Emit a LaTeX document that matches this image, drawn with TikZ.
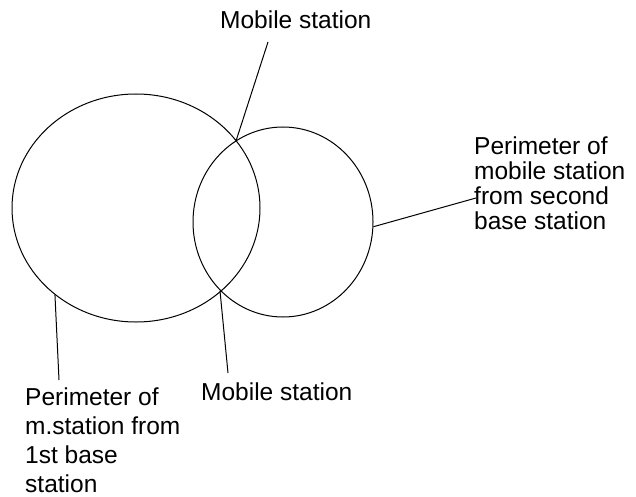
\documentclass[tikz,border=0pt]{standalone}
\usepackage{fontspec}
\setmainfont{Liberation Sans}
\usetikzlibrary{shapes.geometric}

\begin{document}
\begin{tikzpicture}[x=1pt,y=-1pt,
    ring/.style={draw, ellipse, line width=1pt},
    txt/.style={align=left, inner sep=0pt, anchor=base west,
                font=\fontsize{24.5}{25}\selectfont},
    leader/.style={draw, line width=1pt}
  ]
  \useasboundingbox (0,0) rectangle (636,497);

  % perimeters round the two base stations
  \node[ring, minimum width=248pt, minimum height=228pt] (first) at (136,208) {};
  \node[ring, minimum width=180pt, minimum height=190pt] (second) at (283,222) {};

  % where the perimeters cross
  \coordinate (upcross) at (236,141);
  \coordinate (lowcross) at (220,291);

  % texts (base = last line)
  \node[txt] (topms) at (220,28.5) {Mobile station};
  \node[txt] (secondtxt) at (474,229) {Perimeter of\\mobile station\\from second\\base station};
  \node[txt, font=\fontsize{24.5}{29}\selectfont] (firsttxt) at (25,492) {Perimeter of\\m.station from\\1st base\\station};
  \node[txt] (lowms) at (201,400) {Mobile station};

  % free ends of the leaders
  \coordinate (topend) at (268,42);
  \coordinate (secondend) at (476,198);
  \coordinate (firstend) at (59,380);
  \coordinate (lowend) at (228,373);

  \draw[leader] (topend) -- (upcross);
  \draw[leader] (second.-3) -- (secondend);
  \draw[leader] (first.227) -- (firstend);
  \draw[leader] (lowcross) -- (lowend);
\end{tikzpicture}
\end{document}
